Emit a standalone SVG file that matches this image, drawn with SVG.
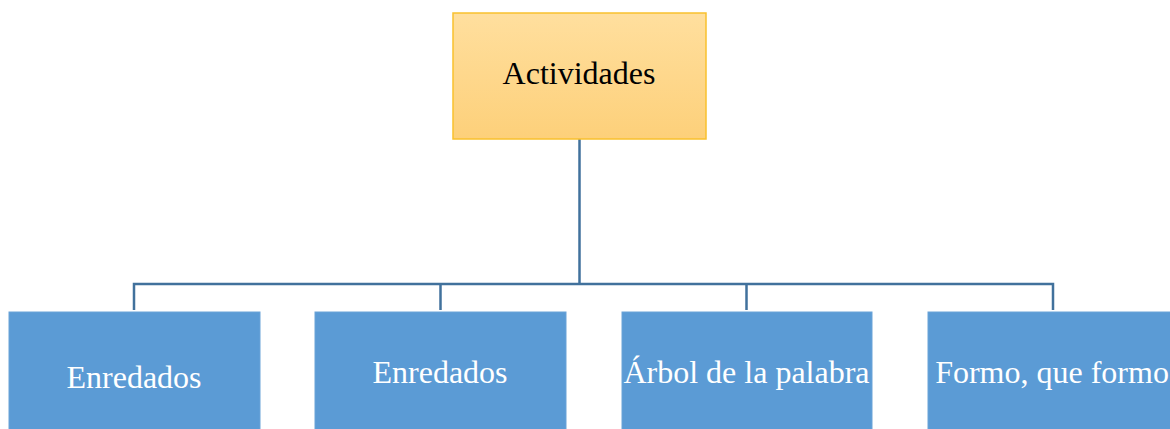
<svg xmlns="http://www.w3.org/2000/svg" width="1170" height="429" viewBox="0 0 1170 429">
<style>
.lbl{font-family:"Liberation Serif","Times New Roman",serif;font-size:32px;text-anchor:middle}
.child{fill:#5B9BD5;stroke:#6BA3D8;stroke-width:1}
.conn{fill:none;stroke:#41719C;stroke-width:2.5}
</style>
<defs>
<linearGradient id="gold" x1="0" y1="0" x2="0" y2="1">
<stop offset="0" stop-color="#FFDF9E"/>
<stop offset="1" stop-color="#FDD07A"/>
</linearGradient>
</defs>
<rect width="1170" height="429" fill="#FFFFFF"/>
<g id="connectors">
<path class="conn" d="M579.5 139 V284"/>
<path class="conn" d="M134 310 V284 H1053 V310"/>
<path class="conn" d="M440.5 284 V310"/>
<path class="conn" d="M746.5 284 V310"/>
</g>
<g id="actividades">
<rect x="453" y="13" width="253" height="126" fill="url(#gold)" stroke="#F9C12E" stroke-width="1.5"/>
<text class="lbl" x="579" y="84" fill="#000000">Actividades</text>
</g>
<g id="enredados1">
<rect class="child" x="9" y="312" width="251" height="126"/>
<text class="lbl" x="134" y="388" fill="#FFFFFF">Enredados</text>
</g>
<g id="enredados2">
<rect class="child" x="315" y="312" width="251" height="126"/>
<text class="lbl" x="440" y="383" fill="#FFFFFF">Enredados</text>
</g>
<g id="arbol">
<rect class="child" x="622" y="312" width="250" height="126"/>
<text class="lbl" x="746.5" y="383" fill="#FFFFFF">Árbol de la palabra</text>
</g>
<g id="formo">
<rect class="child" x="928" y="312" width="251" height="126"/>
<text class="lbl" x="1052" y="383" fill="#FFFFFF">Formo, que formo</text>
</g>
</svg>
